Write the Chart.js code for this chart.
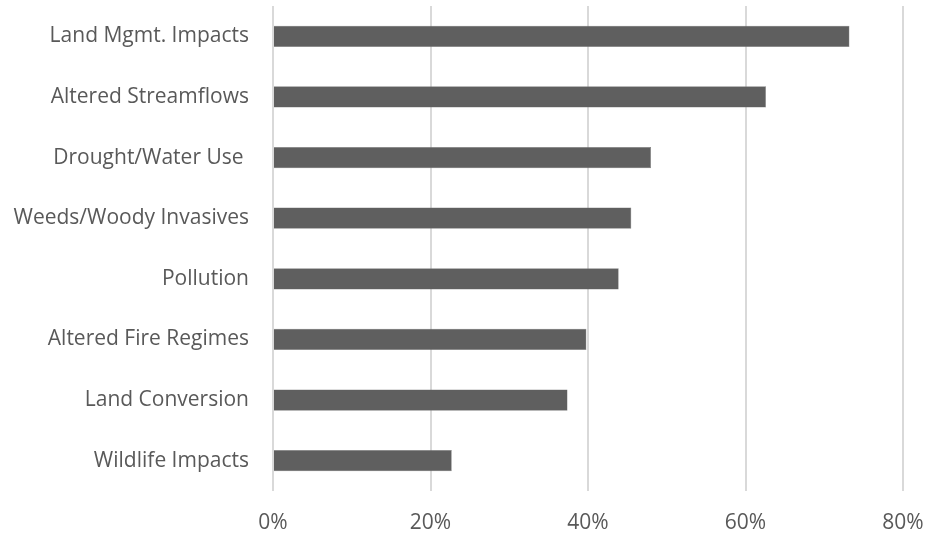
<!DOCTYPE html>
<html>
<head>
<meta charset="utf-8">
<script src="https://cdn.jsdelivr.net/npm/chart.js@4/dist/chart.umd.min.js"></script>
<style>
  html, body { margin:0; padding:0; background:#fff; }
  #wrap { width:927px; height:535px; }
</style>
</head>
<body>
<div id="wrap"><canvas id="threats"></canvas></div>
<script>
// share of sites reporting each stressor (%)
const categories = [
  'Land Mgmt. Impacts',
  'Altered Streamflows',
  'Drought/Water Use ',
  'Weeds/Woody Invasives',
  'Pollution',
  'Altered Fire Regimes',
  'Land Conversion',
  'Wildlife Impacts'
];
const shares = [73.2, 62.6, 48.0, 45.5, 43.9, 39.8, 37.4, 22.7];
const xTicks = [0, 20, 40, 60, 80];

const textColor = '#595959';
const font = { family: '"Open Sans", "Noto Sans", sans-serif', size: 21 };

// keep the plot area where the layout padding puts it
function noOverhang(s) {
  s.paddingTop = 0; s.paddingBottom = 0; s.paddingLeft = 0; s.paddingRight = 0;
}

new Chart(document.getElementById('threats'), {
  type: 'bar',
  data: {
    labels: categories,
    datasets: [{
      data: shares,
      backgroundColor: '#5f5f5f',
      borderColor: '#7a7a7a',
      borderWidth: 0.5,
      barPercentage: 0.35,
      categoryPercentage: 1.0
    }]
  },
  options: {
    indexAxis: 'y',
    responsive: true,
    maintainAspectRatio: false,
    animation: false,
    layout: { padding: { top: 6, right: 24, bottom: 0, left: 0 } },
    plugins: { legend: { display: false }, tooltip: { enabled: false } },
    scales: {
      x: {
        min: xTicks[0],
        max: xTicks[xTicks.length - 1],
        afterBuildTicks: s => { s.ticks = xTicks.map(v => ({ value: v })); },
        afterFit: s => { s.height = 44; noOverhang(s); },
        grid: { color: '#d9d9d9', lineWidth: 2, drawTicks: false },
        border: { display: false },
        ticks: { color: textColor, font, padding: 19, maxRotation: 0, callback: v => v + '%' }
      },
      y: {
        afterFit: s => { s.width = 273; noOverhang(s); },
        grid: { display: false, drawTicks: false },
        border: { display: false },
        ticks: { color: textColor, font, padding: 24 }
      }
    }
  }
});
</script>
</body>
</html>
